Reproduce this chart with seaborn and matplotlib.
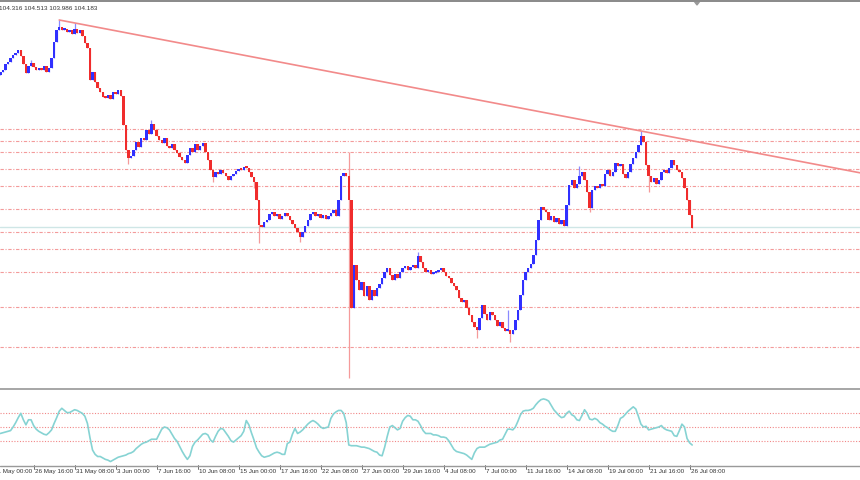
# USDJPY H4 style candle chart with trendline, levels and oscillator window
import numpy as np
import pandas as pd
import matplotlib
matplotlib.use("Agg")
import matplotlib.pyplot as plt
import matplotlib.transforms as mtransforms
from matplotlib.lines import Line2D
from matplotlib.patches import Polygon
import seaborn as sns

# ---- data ----
first_open = 105.75
closes = [
    105.78, 105.80, 105.86, 105.88, 105.92, 105.95, 105.97, 106.00, 105.94, 105.86, 105.77, 105.84, 105.87, 105.83, 105.80, 105.82,
    105.80, 105.84, 105.78, 105.82, 105.92, 106.08, 106.20, 106.23, 106.20, 106.21, 106.18, 106.20, 106.16, 106.21, 106.17, 106.20,
    106.14, 106.07, 106.02, 105.70, 105.78, 105.68, 105.62, 105.58, 105.53, 105.52, 105.55, 105.51, 105.58, 105.56, 105.60, 105.54,
    105.25, 105.00, 104.92, 104.94, 105.00, 105.08, 105.03, 105.12, 105.10, 105.20, 105.16, 105.26, 105.20, 105.14, 105.10, 105.07,
    105.12, 105.04, 105.02, 105.06, 105.00, 104.97, 104.93, 104.90, 104.87, 104.95, 105.02, 104.98, 105.06, 105.00, 105.04, 105.07,
    104.98, 104.90, 104.80, 104.73, 104.78, 104.76, 104.80, 104.77, 104.74, 104.70, 104.74, 104.76, 104.79, 104.81, 104.80, 104.83,
    104.82, 104.78, 104.73, 104.68, 104.50, 104.25, 104.23, 104.28, 104.30, 104.36, 104.38, 104.34, 104.36, 104.31, 104.34, 104.37,
    104.34, 104.30, 104.26, 104.22, 104.18, 104.13, 104.18, 104.24, 104.30, 104.36, 104.38, 104.34, 104.36, 104.32, 104.35, 104.31,
    104.34, 104.37, 104.40, 104.34, 104.50, 104.74, 104.77, 104.74, 104.50, 103.42, 103.85, 103.70, 103.60, 103.68, 103.54, 103.64,
    103.50, 103.60, 103.54, 103.62, 103.66, 103.72, 103.78, 103.82, 103.75, 103.70, 103.76, 103.72, 103.78, 103.82, 103.84, 103.80,
    103.83, 103.85, 103.82, 103.94, 103.88, 103.82, 103.78, 103.80, 103.76, 103.77, 103.78, 103.80, 103.82, 103.78, 103.74, 103.72,
    103.67, 103.64, 103.60, 103.52, 103.48, 103.50, 103.42, 103.35, 103.28, 103.23, 103.20, 103.32, 103.45, 103.36, 103.30, 103.38,
    103.35, 103.30, 103.24, 103.28, 103.22, 103.19, 103.20, 103.16, 103.20, 103.30, 103.40, 103.55, 103.70, 103.78, 103.82, 103.86,
    103.95, 104.10, 104.30, 104.43, 104.40, 104.38, 104.30, 104.34, 104.28, 104.32, 104.26, 104.30, 104.24, 104.45, 104.65, 104.70,
    104.62, 104.66, 104.74, 104.78, 104.70, 104.58, 104.42, 104.60, 104.64, 104.62, 104.66, 104.64, 104.76, 104.80, 104.74, 104.78,
    104.87, 104.84, 104.86, 104.76, 104.72, 104.78, 104.86, 104.92, 104.98, 105.05, 105.14, 105.08, 104.85, 104.74, 104.68, 104.72,
    104.66, 104.70, 104.78, 104.80, 104.77, 104.82, 104.90, 104.85, 104.80, 104.78, 104.72, 104.62, 104.50, 104.35, 104.22,
]
# bars whose wicks stick out of the body
high_marks = {12: 105.90, 23: 106.30, 29: 106.27, 59: 105.30, 136: 104.98, 163: 103.98,
              198: 103.40, 226: 104.84, 250: 105.19}
low_marks = {50: 104.86, 83: 104.68, 99: 104.62, 101: 104.07, 117: 104.08, 136: 102.72,
             186: 103.12, 199: 103.08, 230: 104.38, 253: 104.58}

osc = [
    41, 42, 43, 44, 45, 50, 56, 63, 69, 60, 53, 60, 60, 52, 47, 44,
    42, 40, 39, 42, 46, 55, 63, 72, 76, 73, 70, 70, 72, 74, 73, 71,
    69, 65, 55, 35, 18, 12, 9, 9, 7, 5, 4, 2, 4, 6, 8, 9,
    10, 11, 13, 14, 16, 20, 23, 26, 28, 29, 31, 33, 33, 33, 40, 47,
    50, 49, 46, 40, 34, 30, 23, 16, 10, 5, 10, 23, 29, 32, 36, 40,
    41, 39, 32, 29, 37, 44, 48, 47, 42, 37, 31, 29, 32, 35, 38, 44,
    59, 53, 42, 32, 21, 15, 10, 8, 9, 10, 12, 14, 15, 14, 12, 12,
    27, 29, 40, 48, 41, 43, 46, 50, 54, 57, 59, 57, 54, 50, 48, 49,
    50, 62, 68, 71, 73, 73, 69, 56, 25, 24, 24, 24, 23, 22, 22, 21,
    20, 18, 16, 15, 11, 10, 22, 37, 50, 52, 49, 46, 48, 58, 63, 66,
    65, 60, 60, 58, 52, 45, 41, 41, 41, 39, 39, 38, 36, 36, 35, 31,
    25, 19, 16, 15, 14, 13, 11, 8, 5, 14, 20, 22, 22, 22, 24, 26,
    27, 28, 29, 32, 33, 40, 47, 47, 46, 50, 58, 67, 72, 73, 73, 74,
    76, 81, 85, 88, 89, 88, 86, 80, 74, 70, 66, 63, 64, 69, 72, 67,
    65, 60, 59, 66, 74, 69, 61, 60, 62, 60, 56, 54, 51, 49, 46, 44,
    44, 52, 62, 64, 68, 72, 75, 78, 75, 65, 54, 50, 51, 46, 47, 48,
    49, 50, 52, 48, 46, 45, 44, 38, 37, 45, 54, 50, 34, 28, 25,
]

levels = [105.21, 105.09, 104.98, 104.81, 104.64, 104.41, 104.18, 104.01, 103.78, 103.43, 103.03]
bid_line = 104.23
osc_levels = [70, 50, 30]

trend_bars = [23, 250]
trend_prices = [106.30, 105.19]

time_labels = ["21 May 00:00", "26 May 16:00", "31 May 08:00", "3 Jun 00:00", "7 Jun 16:00",
               "10 Jun 08:00", "15 Jun 00:00", "17 Jun 16:00", "22 Jun 08:00", "27 Jun 00:00",
               "29 Jun 16:00", "4 Jul 08:00", "7 Jul 00:00", "11 Jul 16:00", "14 Jul 08:00",
               "19 Jul 00:00", "21 Jul 16:00", "26 Jul 08:00"]
label_bars = [16 * k - 3 for k in range(len(time_labels))]
ohlc_text = "104.316 104.513 103.986 104.183"

# ---- build frame ----
df = pd.DataFrame({"bar": np.arange(len(closes)), "close": closes, "osc": osc})
df["open"] = [first_open] + closes[:-1]
df["high"] = df[["open", "close"]].max(axis=1)
df["low"] = df[["open", "close"]].min(axis=1)
for b, v in high_marks.items():
    df.loc[b, "high"] = v
for b, v in low_marks.items():
    df.loc[b, "low"] = v
df["up"] = df["close"] >= df["open"]

sns.set_style("white")
plt.rcParams['font.family'] = ['Liberation Sans', 'DejaVu Sans']

W, H = 860, 480
fig = plt.figure(figsize=(8.6, 4.8), dpi=100)
ax = fig.add_axes([0, 1 - 387 / H, 1, 385 / H])
ax2 = fig.add_axes([0, 1 - 465 / H, 1, 75 / H])

px_per_bar = 2.5625
x_left = -0.3 / px_per_bar
x_right = x_left + W / px_per_bar
for a in (ax, ax2):
    a.set_xlim(x_left, x_right)
    a.set_xticks([])
    a.set_yticks([])
    for s in a.spines.values():
        s.set_visible(False)

ax.set_ylim(106.50 - 387 / 100, 106.50 - 2 / 100)
ax2.set_ylim(-2.8, 101.4)

# levels
for lv in levels:
    ax.axhline(lv, color="#f07a7a", lw=0.8, dashes=(3, 1.5, 1, 1.5), alpha=0.75, zorder=1)
ax.axhline(bid_line, color="#cfe6e6", lw=1.0, zorder=1)

# candles
up = df[df["up"]]
dn = df[~df["up"]]
ax.vlines(up["bar"], up["low"], up["high"], color="#8a8aff", lw=0.9, zorder=2)
ax.vlines(dn["bar"], dn["low"], dn["high"], color="#f59a9a", lw=0.9, zorder=2)
ax.bar(up["bar"], (up["close"] - up["open"]).clip(lower=0.015), bottom=up["open"],
       width=0.95, color="#3030ff", linewidth=0, zorder=3)
ax.bar(dn["bar"], (dn["open"] - dn["close"]).clip(lower=0.015), bottom=dn["close"],
       width=0.95, color="#f02c2c", linewidth=0, zorder=3)

# trendline (ray to the right)
slope = (trend_prices[1] - trend_prices[0]) / (trend_bars[1] - trend_bars[0])
ax.plot([trend_bars[0], x_right], [trend_prices[0], trend_prices[0] + slope * (x_right - trend_bars[0])],
        color="#f28a8a", lw=1.2, zorder=4)

# oscillator window
for lv in osc_levels:
    ax2.axhline(lv, color="#f07a7a", lw=0.8, dashes=(1, 1.5), alpha=0.9, zorder=1)
sns.lineplot(data=df, x="bar", y="osc", ax=ax2, color="#86d3d3", lw=1.2, zorder=2)
ax2.set_xlabel("")
ax2.set_ylabel("")

# time axis labels
tr = mtransforms.blended_transform_factory(ax2.transData, ax2.transAxes)
for b, lab in zip(label_bars, time_labels):
    ax2.add_line(Line2D([b, b], [0, -4 / 75], transform=tr, color="#555555", lw=0.6, clip_on=False))
    ax2.text(b + 0.4, -6.5 / 75, lab, transform=tr, fontsize=4.5, color="#333333",
             ha="left", va="center", clip_on=False)

# window frames
for ypx, lw, col in [(1, 2.0, "#8c8c8c"), (388.5, 2.0, "#a8a8a8"), (465.5, 1.4, "#9a9a9a")]:
    fig.add_artist(Line2D([0, 1], [1 - ypx / H] * 2, transform=fig.transFigure, color=col, lw=lw * 0.72))
fig.add_artist(Polygon([[694 / W, 1 - 1 / H], [700 / W, 1 - 1 / H], [697 / W, 1 - 5 / H]],
                       closed=True, transform=fig.transFigure, color="#9a9a9a"))

fig.text(-1 / W, 1 - 8.5 / H, ohlc_text, fontsize=4.6, color="#333333", ha="left", va="center")

fig.savefig("out.png", dpi=100)
